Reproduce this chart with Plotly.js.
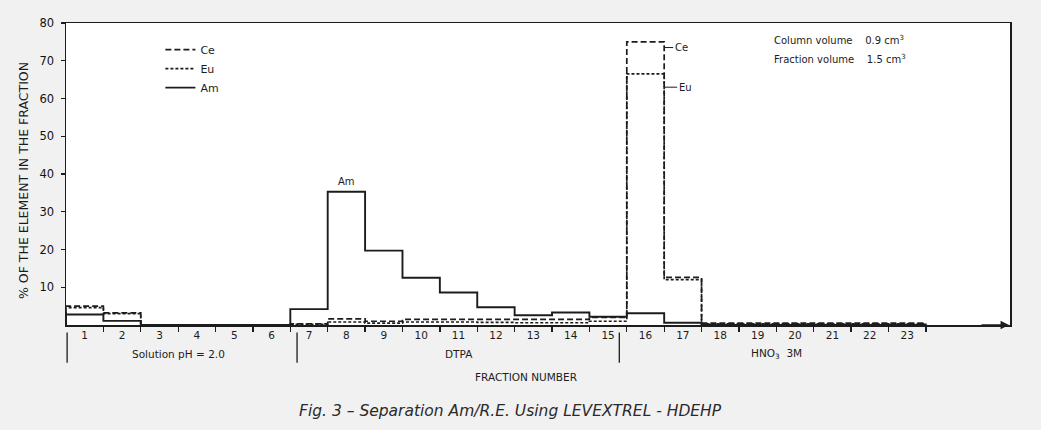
<!DOCTYPE html>
<html>
<head>
<meta charset="utf-8">
<script src="https://cdn.plot.ly/plotly-3.0.1.min.js"></script>
<style>html,body{margin:0;padding:0;background:#f1f1f1;}#chart{width:1041px;height:430px;}</style>
</head>
<body>
<div id="chart"></div>
<script>
// Fraction numbers
const fractions = [1,2,3,4,5,6,7,8,9,10,11,12,13,14,15,16,17,18,19,20,21,22,23];
// % of the element in each fraction
const ce = [5.0,3.2,0,0,0,0,0.3,1.6,1.0,1.5,1.5,1.5,1.5,1.5,2.0,75.0,12.6,0.5,0.5,0.5,0.5,0.5,0.5];
const eu = [4.6,3.0,0,0,0,0,0.2,0.8,0.5,0.8,0.8,0.7,0.6,0.6,1.0,66.5,12.0,0.3,0.3,0.3,0.3,0.3,0.3];
const am = [2.8,1.1,0,0,0,0,4.2,35.3,19.7,12.5,8.6,4.7,2.6,3.3,2.2,3.1,0.6,0,0,0,0,0,0];
// Eluent sections
const sectionNames = ["Solution pH = 2.0", "DTPA", "HNO<sub>3</sub>  3M"];
const sectionFirst = [1, 7, 16];
const sectionLast = [6, 15, 23];
const yTicks = [10,20,30,40,50,60,70,80];

const ink = '#1c1c1c';
const FONT = 'DejaVu Sans, Liberation Sans, sans-serif';

function stepX(fr){
  const x = [fr[0]-0.5];
  fr.forEach(f => x.push(f-0.5));
  x.push(fr[fr.length-1]+0.5);
  return x;
}
function stepY(v){ return [0].concat(v).concat([0]); }

const xs = stepX(fractions);
const traces = [
  {name:'Ce', x:xs, y:stepY(ce), mode:'lines', line:{shape:'hv', color:ink, width:1.7, dash:'6px,3px'}},
  {name:'Eu', x:xs, y:stepY(eu), mode:'lines', line:{shape:'hv', color:ink, width:1.7, dash:'3px,2px'}},
  {name:'Am', x:xs, y:stepY(am), mode:'lines', line:{shape:'hv', color:ink, width:1.9}}
];

const boundaries = fractions.map(f => f+0.5);
const xr = [0.5, 25.75];
// small visual offsets of the section separators relative to fraction boundaries
const sepShift = [0.03, 0.18, -0.2];

const ann = [];
const shapes = [];
sectionNames.forEach((nm,i)=>{
  const c = (sectionFirst[i]+sectionLast[i])/2;
  ann.push({text:nm, x:c, xref:'x', y:-0.097, yref:'paper', showarrow:false, font:{size:10.5, color:ink, family:FONT}, yanchor:'middle'});
  const sx = sectionFirst[i]-0.5+sepShift[i];
  shapes.push({type:'line', xref:'x', yref:'paper', x0:sx, x1:sx, y0:-0.025, y1:-0.125, line:{color:ink, width:1.3}});
});
ann.push({text:'FRACTION NUMBER', x:0.487, xref:'paper', y:-0.198, yref:'paper', showarrow:false, font:{size:10.5, color:ink, family:FONT}});
ann.push({text:'<i>Fig. 3 – Separation Am/R.E. Using LEVEXTREL - HDEHP</i>', x:0.471, xref:'paper', y:-0.321, yref:'paper', showarrow:false, font:{size:15.5, color:'#2a2a2a', family:FONT}});
ann.push({text:'% OF THE ELEMENT IN THE FRACTION', x:-0.0545, xref:'paper', y:0.477, yref:'paper', textangle:-90, showarrow:false, font:{size:12.5, color:ink, family:FONT}});
ann.push({text:'Column volume    0.9 cm<sup>3</sup>', x:0.748, xref:'paper', y:0.97, yref:'paper', xanchor:'left', showarrow:false, font:{size:10, color:ink, family:FONT}});
ann.push({text:'Fraction volume    1.5 cm<sup>3</sup>', x:0.748, xref:'paper', y:0.907, yref:'paper', xanchor:'left', showarrow:false, font:{size:10, color:ink, family:FONT}});
// series labels
ann.push({text:'Am', x:8, y:am[7], yshift:10, showarrow:false, font:{size:10, color:ink, family:FONT}});
ann.push({text:'Ce', x:16.5, y:73.5, ax:9, ay:0, axref:'pixel', ayref:'pixel', xanchor:'left', showarrow:true, arrowhead:0, arrowwidth:1, arrowcolor:ink, standoff:0, font:{size:10, color:ink, family:FONT}});
ann.push({text:'Eu', x:16.5, y:63.0, ax:13, ay:0, axref:'pixel', ayref:'pixel', xanchor:'left', showarrow:true, arrowhead:0, arrowwidth:1, arrowcolor:ink, standoff:0, font:{size:10, color:ink, family:FONT}});
// axis arrowhead
ann.push({text:'', x:xr[1], y:0, ax:-30, ay:0, axref:'pixel', ayref:'pixel', showarrow:true, arrowhead:2, arrowsize:1.3, arrowwidth:1.3, arrowcolor:ink, standoff:1});

const layout = {
  width:1041, height:430,
  margin:{l:66, r:31, t:23, b:105},
  paper_bgcolor:'#f1f1f1', plot_bgcolor:'#ffffff',
  font:{family:FONT, color:ink},
  showlegend:true,
  legend:{x:0.1, y:0.96, xanchor:'left', yanchor:'top', bgcolor:'rgba(0,0,0,0)', font:{size:11, color:ink, family:FONT}, itemwidth:30, tracegroupgap:0},
  xaxis:{range:xr, tickmode:'array', tickvals:fractions, ticktext:fractions.map(String), ticks:'', showgrid:false, zeroline:false,
         showline:true, linecolor:ink, linewidth:1.5, mirror:true, tickfont:{size:10.5, color:ink, family:FONT},
         minor:{tickmode:'array', tickvals:boundaries, ticks:'outside', ticklen:5, tickwidth:1.3, tickcolor:ink, showgrid:false}},
  yaxis:{range:[0,80], tickmode:'array', tickvals:yTicks, ticks:'outside', ticklen:4, tickwidth:1.3, tickcolor:ink, showgrid:false, zeroline:false,
         showline:true, linecolor:ink, linewidth:1.5, mirror:true, ticklabelstandoff:4, tickfont:{size:11.5, color:'#111', family:FONT}},
  annotations:ann,
  shapes:shapes
};

Plotly.newPlot('chart', traces, layout, {staticPlot:true, displayModeBar:false});
</script>
</body>
</html>
